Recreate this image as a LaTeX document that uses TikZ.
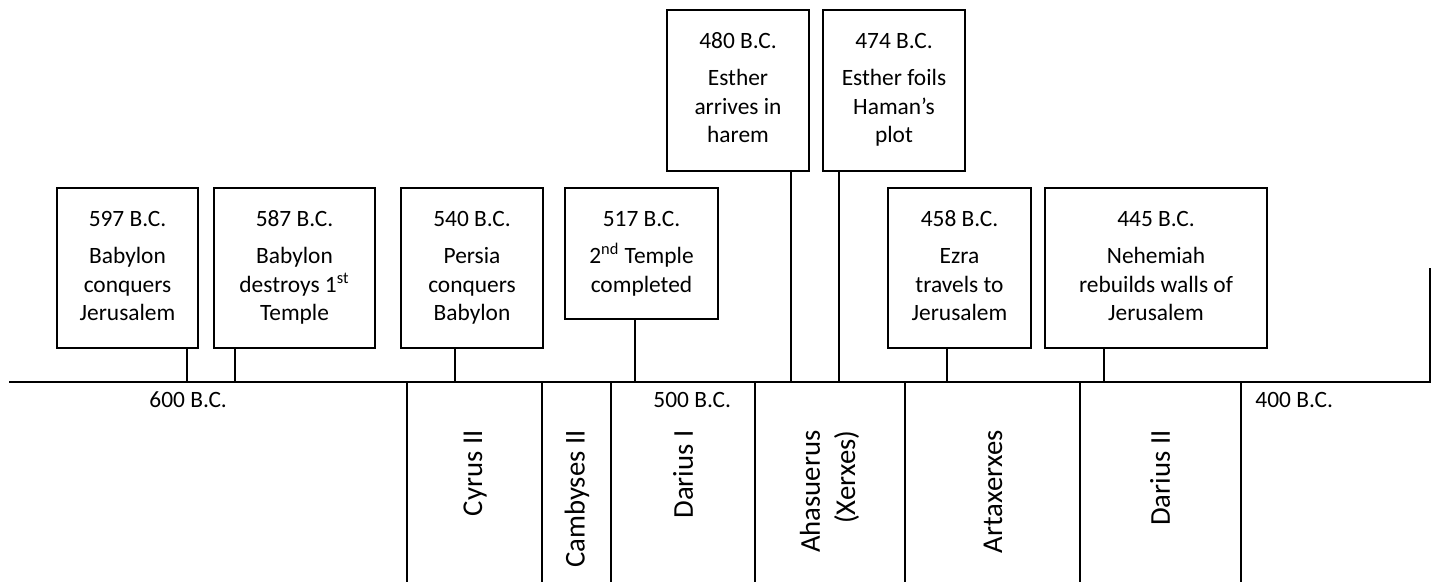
\documentclass[tikz,border=0pt]{standalone}
\usepackage{fontspec}
\setmainfont{Carlito}
\usetikzlibrary{calc}
\newcommand{\pxlen}{0.47pt}
\begin{document}
\begin{tikzpicture}[x=0.47pt,y=-0.47pt,
  evbox/.style={draw, line width=0.8pt, inner sep=0pt, outer sep=0pt, anchor=north west},
  evtext/.style={anchor=north, inner sep=0pt, align=center, font=\fontsize{11}{13.6}\selectfont},
  axislbl/.style={anchor=base west, inner sep=0pt, font=\fontsize{11}{13.6}\selectfont},
  ruler/.style={anchor=east, rotate=90, inner sep=0pt, align=right, font=\fontsize{13.5}{16.5}\selectfont},
  tl/.style={line width=1.1pt}]
\useasboundingbox (0,0) rectangle (1436,582);

% axis
\coordinate (axL) at (9,382);
\coordinate (axR) at (1430,382);
\coordinate (axRT) at (1430,268);
\draw[tl] (axL) -- (axR) -- (axRT);

% event boxes
\node[evbox, minimum width=141*\pxlen, minimum height=160*\pxlen] (b597) at (57,188) {};
\node[evbox, minimum width=161*\pxlen, minimum height=160*\pxlen] (b587) at (214,188) {};
\node[evbox, minimum width=142*\pxlen, minimum height=160*\pxlen] (b540) at (401,188) {};
\node[evbox, minimum width=153*\pxlen, minimum height=131*\pxlen] (b517) at (565,188) {};
\node[evbox, minimum width=142*\pxlen, minimum height=161*\pxlen] (b480) at (667,10) {};
\node[evbox, minimum width=142*\pxlen, minimum height=161*\pxlen] (b474) at (823,10) {};
\node[evbox, minimum width=143*\pxlen, minimum height=160*\pxlen] (b458) at (888,188) {};
\node[evbox, minimum width=222*\pxlen, minimum height=160*\pxlen] (b445) at (1045,188) {};

% texts
\node[evtext] (x597) at ($(b597.north)+(0,16.8)$) {\rule{0pt}{10pt}597 B.C.\\[3.6pt]Babylon\\conquers\\Jerusalem};
\node[evtext] (x587) at ($(b587.north)+(0,16.8)$) {\rule{0pt}{10pt}587 B.C.\\[3.6pt]Babylon\\destroys 1\textsuperscript{st}\\Temple};
\node[evtext] (x540) at ($(b540.north)+(0,16.8)$) {\rule{0pt}{10pt}540 B.C.\\[3.6pt]Persia\\conquers\\Babylon};
\node[evtext] (x517) at ($(b517.north)+(0,16.8)$) {\rule{0pt}{10pt}517 B.C.\\[3.6pt]2\textsuperscript{nd} Temple\\completed};
\node[evtext] (x480) at ($(b480.north)+(0,16.8)$) {\rule{0pt}{10pt}480 B.C.\\[3.6pt]Esther\\arrives in\\harem};
\node[evtext] (x474) at ($(b474.north)+(0,16.8)$) {\rule{0pt}{10pt}474 B.C.\\[3.6pt]Esther foils\\Haman’s\\plot};
\node[evtext] (x458) at ($(b458.north)+(0,16.8)$) {\rule{0pt}{10pt}458 B.C.\\[3.6pt]Ezra\\travels to\\Jerusalem};
\node[evtext] (x445) at ($(b445.north)+(0,16.8)$) {\rule{0pt}{10pt}445 B.C.\\[3.6pt]Nehemiah\\rebuilds walls of\\Jerusalem};

% connectors to axis
\foreach \b/\x in {597/187, 587/235, 540/455, 517/635, 480/791, 474/839, 458/947, 445/1104}{
  \coordinate (c\b) at (\x,382);
  \draw[tl] (b\b.south -| c\b) -- (c\b);
}

% reign dividers
\foreach \i/\x in {1/407, 2/542, 3/611, 4/755, 5/905, 6/1080, 7/1241}{
  \coordinate (dt\i) at (\x,382);
  \coordinate (db\i) at (\x,582);
  \draw[tl] (dt\i) -- (db\i);
}

% axis labels
\node[axislbl] (l600) at (149,407.5) {600 B.C.};
\node[axislbl] (l500) at (653,407.5) {500 B.C.};
\node[axislbl] (l400) at (1255,407.5) {400 B.C.};

% rulers
\node[ruler] (kCyrus) at (475,430) {Cyrus II};
\node[ruler] (kCamb) at (577,430) {Cambyses II};
\node[ruler] (kDar1) at (683,430) {Darius I};
\node[ruler] (kAhas) at (829.5,430) {Ahasuerus\\(Xerxes)};
\node[ruler] (kArta) at (993,430) {Artaxerxes};
\node[ruler] (kDar2) at (1160,430) {Darius II};
\end{tikzpicture}
\end{document}
